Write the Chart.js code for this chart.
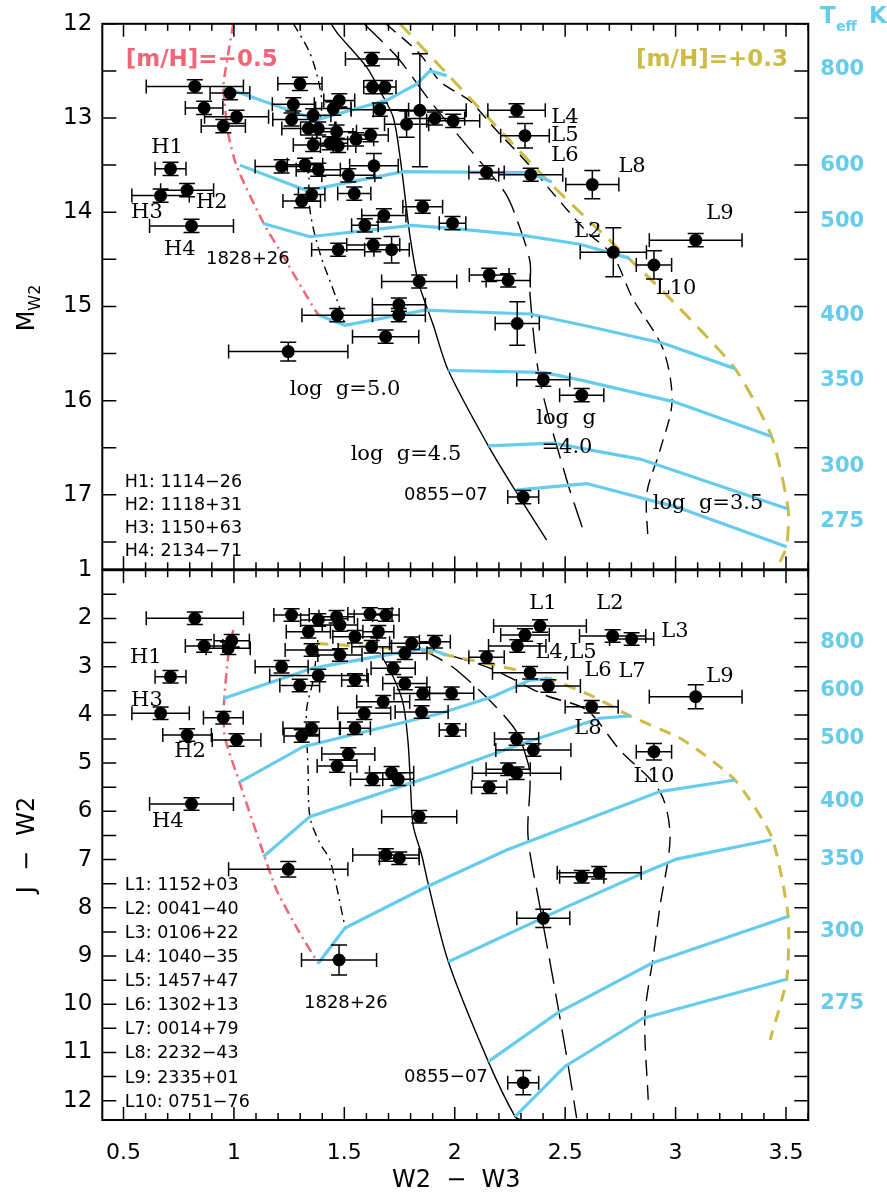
<!DOCTYPE html>
<html>
<head>
<meta charset="utf-8">
<script src="https://cdn.jsdelivr.net/npm/chart.js@4.4.1/dist/chart.umd.min.js"></script>
<style>
  body { margin: 0; background: #fff; }
  #wrap { position: relative; width: 887px; height: 1194px; }
  canvas { position: absolute; left: 0; }
</style>
</head>
<body>
<div id="wrap">
  <canvas id="chartTop" width="887" height="600" style="top:0"></canvas>
  <canvas id="chartBottom" width="887" height="664" style="top:530px"></canvas>
</div>
<script>
// === Colores ===
const cyan = "#66CCEE", red = "#EE6677", yellow = "#CCBB44";
const sans = "'DejaVu Sans', sans-serif";
const serif = "'DejaVu Serif', serif";

// === Ejes ===
const xTicks = [0.5, 1, 1.5, 2, 2.5, 3, 3.5];
const topYTicks = [12, 13, 14, 15, 16, 17];
const bottomYTicks = [1, 2, 3, 4, 5, 6, 7, 8, 9, 10, 11, 12];
const teffLabels = ["800", "600", "500", "400", "350", "300", "275"];
const teffTopAt = [12.49, 13.505, 14.10, 15.10, 15.79, 16.70, 17.28];
const teffBottomAt = [2.50, 3.50, 4.49, 5.80, 7.00, 8.50, 9.98];

// === Panel superior: M_W2 vs W2-W3 ===
const topX = [
  0.823, 0.982, 0.865, 1.012, 0.952, 0.713, 0.788, 0.668, 0.808, 1.625,
  1.299, 1.628, 1.684, 1.269, 1.477, 1.450, 1.359, 1.261, 1.337, 1.382,
  1.465, 1.359, 1.435, 1.472, 1.553, 1.619, 1.661, 1.782, 1.842, 1.910,
  1.993, 1.216, 1.322, 1.382, 1.518, 1.634, 1.307, 1.352, 1.545, 2.144,
  1.855, 1.679, 1.593, 1.990, 1.472, 1.631, 1.714, 1.839, 2.280, 2.318,
  2.344, 2.623, 3.091, 2.718, 2.902, 2.156, 2.242, 1.468, 1.747, 1.747,
  1.687, 1.246, 2.283, 2.401, 2.575, 2.310
];
const topY = [
  12.665, 12.735, 12.893, 12.987, 13.086, 13.539, 13.766, 13.823, 14.145, 12.374,
  12.637, 12.672, 12.672, 12.855, 12.813, 12.900, 12.971, 13.016, 13.111, 13.111,
  13.145, 13.286, 13.268, 13.297, 13.226, 13.181, 12.911, 13.065, 12.918, 13.005,
  13.030, 13.514, 13.497, 13.549, 13.608, 13.507, 13.882, 13.813, 13.802, 13.577,
  13.942, 14.034, 14.139, 14.116, 14.398, 14.349, 14.398, 14.735, 12.918, 13.187,
  13.602, 13.707, 14.297, 14.426, 14.560, 14.665, 14.724, 15.093, 14.981, 15.093,
  15.321, 15.479, 15.181, 15.777, 15.942, 17.023
];
const topXerr = [
  0.22, 0.09, 0.085, 0.145, 0.10, 0.07, 0.12, 0.13, 0.19, 0.12,
  0.10, 0.04, 0.05, 0.095, 0.07, 0.08, 0.08, 0.085, 0.12, 0.08,
  0.09, 0.09, 0.08, 0.08, 0.08, 0.08, 0.13, 0.10, 0.21, 0.135,
  0.12, 0.12, 0.08, 0.10, 0.12, 0.11, 0.085, 0.06, 0.075, 0.08,
  0.09, 0.10, 0.06, 0.06, 0.12, 0.12, 0.08, 0.17, 0.13, 0.11,
  0.145, 0.12, 0.21, 0.15, 0.08, 0.09, 0.10, 0.16, 0.12, 0.12,
  0.15, 0.27, 0.10, 0.12, 0.10, 0.07
];
const topYerr = [
  0.07, 0.07, 0.07, 0.07, 0.07, 0.07, 0.07, 0.07, 0.07, 0.07,
  0.07, 0.07, 0.07, 0.07, 0.07, 0.07, 0.07, 0.07, 0.07, 0.07,
  0.07, 0.07, 0.07, 0.07, 0.07, 0.07, 0.07, 0.14, 0.60, 0.07,
  0.07, 0.07, 0.07, 0.07, 0.07, 0.13, 0.07, 0.07, 0.07, 0.07,
  0.07, 0.07, 0.07, 0.07, 0.07, 0.07, 0.14, 0.07, 0.07, 0.13,
  0.07, 0.15, 0.07, 0.26, 0.15, 0.07, 0.07, 0.07, 0.07, 0.07,
  0.07, 0.10, 0.23, 0.07, 0.07, 0.07
];

// curvas del panel superior [W2-W3, M_W2]
const topMetalPoor = [[0.997, 12.0], [0.964, 12.46], [0.952, 12.67], [0.974, 13.16], [1.012, 13.51], [1.133, 14.11], [1.239, 14.53], [1.337, 14.92], [1.382, 15.09]];
const topMetalRich = [[1.752, 12.0], [1.933, 12.45], [2.431, 13.69], [2.716, 14.33], [2.960, 14.88], [3.269, 15.66], [3.435, 16.38], [3.510, 17.15], [3.503, 17.55], [3.473, 17.71]];
const topT800 = [[0.952, 12.67], [1.375, 13.02], [1.694, 12.81], [1.827, 12.64], [1.888, 12.50], [1.963, 12.55]];
const topT600 = [[1.027, 13.50], [1.329, 13.77], [1.767, 13.57], [2.341, 13.58], [2.439, 13.68]];
const topT500 = [[1.133, 14.12], [1.344, 14.26], [1.805, 14.14], [2.024, 14.18], [2.295, 14.24], [2.567, 14.34], [2.793, 14.49]];
const topT400 = [[1.382, 15.09], [1.503, 15.20], [1.865, 15.04], [2.341, 15.08], [2.582, 15.20], [2.944, 15.39], [3.269, 15.66]];
const topT350 = [[1.971, 15.68], [2.401, 15.70], [2.567, 15.78], [2.990, 16.01], [3.435, 16.38]];
const topT300 = [[2.152, 16.48], [2.446, 16.45], [2.839, 16.62], [3.510, 17.15]];
const topT275 = [[2.273, 16.95], [2.597, 16.88], [3.005, 17.13], [3.503, 17.55]];
const topLogg50 = [[1.270, 12.0], [1.342, 12.30], [1.380, 12.58], [1.398, 12.85], [1.380, 13.16], [1.344, 13.51], [1.344, 13.97], [1.389, 14.43], [1.465, 14.92], [1.503, 15.19]];
const topLogg45 = [[1.440, 12.0], [1.472, 12.11], [1.601, 12.46], [1.661, 12.71], [1.721, 12.99], [1.752, 13.41], [1.782, 13.97], [1.797, 14.25], [1.835, 14.74], [1.903, 15.20], [1.971, 15.68], [2.152, 16.48], [2.273, 16.95], [2.416, 17.48]];
const topLogg40 = [[1.589, 12.0], [1.738, 12.35], [1.888, 12.82], [2.082, 13.37], [2.227, 13.79], [2.282, 14.08], [2.341, 14.53], [2.341, 14.88], [2.386, 15.79], [2.508, 16.85], [2.581, 17.37]];
const topLogg35 = [[1.688, 12.0], [1.842, 12.32], [1.933, 12.61], [2.069, 12.82], [2.173, 13.09], [2.341, 13.51], [2.431, 13.76], [2.599, 14.21], [2.716, 14.46], [2.807, 14.92], [2.943, 15.45], [2.984, 16.01], [2.929, 16.53], [2.870, 16.98], [2.875, 17.48]];

// === Panel inferior: J-W2 vs W2-W3 ===
const bottomX = [
  0.823, 0.990, 0.865, 0.974, 0.713, 0.668, 0.952, 0.788, 1.012, 0.808,
  1.261, 1.382, 1.465, 1.480, 1.616, 1.688, 1.337, 1.548, 1.654, 1.624,
  1.352, 1.480, 1.805, 1.910, 1.774, 1.216, 1.382, 1.298, 1.548, 1.721,
  1.774, 1.855, 1.986, 1.676, 1.850, 1.590, 1.990, 1.352, 1.307, 1.548,
  1.518, 1.467, 1.628, 1.714, 1.744, 1.839, 2.144, 2.386, 2.318, 2.283,
  2.715, 2.801, 2.341, 2.424, 2.620, 3.091, 2.280, 2.356, 2.902, 2.242,
  2.280, 2.156, 1.246, 1.688, 1.749, 1.476, 2.575, 2.654, 2.401, 2.310
];
const bottomY = [
  1.997, 2.462, 2.572, 2.619, 3.208, 3.967, 4.058, 4.417, 4.521, 5.848,
  1.929, 2.033, 1.964, 2.136, 1.908, 1.929, 2.275, 2.379, 2.275, 2.586,
  2.655, 2.758, 2.516, 2.482, 2.723, 3.001, 3.183, 3.391, 3.277, 3.034,
  3.349, 3.557, 3.552, 3.727, 3.940, 3.967, 4.313, 4.278, 4.438, 4.278,
  4.811, 5.060, 5.336, 5.199, 5.336, 6.111, 2.806, 2.157, 2.344, 2.572,
  2.364, 2.427, 3.125, 3.401, 3.830, 3.623, 4.500, 4.728, 4.763, 5.128,
  5.211, 5.501, 7.202, 6.905, 6.973, 9.082, 7.355, 7.272, 8.218, 11.626
];
const bottomXerr = [
  0.22, 0.08, 0.085, 0.10, 0.07, 0.13, 0.09, 0.11, 0.11, 0.19,
  0.08, 0.08, 0.08, 0.08, 0.10, 0.06, 0.10, 0.10, 0.07, 0.09,
  0.12, 0.10, 0.10, 0.07, 0.10, 0.12, 0.22, 0.09, 0.06, 0.10,
  0.10, 0.13, 0.10, 0.12, 0.12, 0.12, 0.06, 0.13, 0.08, 0.07,
  0.12, 0.09, 0.10, 0.10, 0.07, 0.17, 0.08, 0.21, 0.11, 0.13,
  0.15, 0.10, 0.17, 0.145, 0.12, 0.21, 0.10, 0.17, 0.08, 0.10,
  0.20, 0.08, 0.27, 0.15, 0.09, 0.17, 0.10, 0.19, 0.12, 0.07
];
const bottomYerr = [
  0.13, 0.13, 0.13, 0.13, 0.13, 0.13, 0.13, 0.13, 0.13, 0.13,
  0.13, 0.13, 0.13, 0.13, 0.13, 0.13, 0.13, 0.13, 0.13, 0.13,
  0.13, 0.13, 0.13, 0.13, 0.13, 0.13, 0.13, 0.13, 0.13, 0.13,
  0.13, 0.13, 0.13, 0.13, 0.13, 0.13, 0.13, 0.13, 0.13, 0.13,
  0.13, 0.13, 0.13, 0.13, 0.13, 0.13, 0.13, 0.13, 0.13, 0.13,
  0.13, 0.13, 0.13, 0.13, 0.13, 0.25, 0.13, 0.13, 0.17, 0.13,
  0.13, 0.13, 0.16, 0.13, 0.13, 0.31, 0.13, 0.13, 0.19, 0.25
];

// curvas del panel inferior [W2-W3, J-W2]
const bottomMetalPoor = [[0.997, 2.24], [0.974, 2.79], [0.955, 3.76], [0.958, 4.45], [1.027, 5.42], [1.118, 6.66], [1.193, 7.63], [1.299, 8.53], [1.382, 9.15]];
const bottomMetalRich = [[1.375, 2.52], [1.812, 2.65], [1.963, 2.76], [2.280, 3.07], [2.446, 3.28], [2.627, 3.62], [2.793, 4.02], [3.034, 4.52], [3.269, 5.35], [3.435, 6.53], [3.510, 8.18], [3.503, 9.48], [3.428, 10.74]];
const bottomT800 = [[0.952, 3.66], [1.359, 3.03], [1.684, 2.76], [1.842, 2.64], [1.888, 2.64], [1.963, 2.76]];
const bottomT600 = [[1.027, 5.39], [1.314, 4.66], [1.933, 3.97], [2.174, 3.62], [2.341, 3.28], [2.439, 3.24]];
const bottomT500 = [[1.133, 6.94], [1.344, 6.11], [1.752, 5.49], [1.933, 5.21], [2.310, 4.59], [2.658, 4.07], [2.793, 4.02]];
const bottomT400 = [[1.382, 9.15], [1.503, 8.42], [1.857, 7.60], [2.235, 6.80], [2.929, 5.59], [3.269, 5.35]];
const bottomT350 = [[1.971, 9.12], [2.507, 7.98], [2.853, 7.28], [3.005, 6.99], [3.434, 6.59]];
const bottomT300 = [[2.152, 11.19], [2.462, 10.19], [2.892, 9.15], [3.510, 8.18]];
const bottomT275 = [[2.273, 12.33], [2.499, 11.29], [2.853, 10.29], [3.503, 9.48]];
const bottomLogg50 = [[1.380, 2.45], [1.359, 3.28], [1.329, 3.90], [1.336, 5.14], [1.344, 6.11], [1.389, 6.66], [1.435, 7.01], [1.503, 8.39]];
const bottomLogg45 = [[1.661, 2.72], [1.721, 3.21], [1.766, 3.76], [1.789, 4.59], [1.800, 5.50], [1.812, 6.30], [1.850, 6.90], [1.879, 7.49], [1.971, 9.12], [2.152, 11.19], [2.273, 12.33], [2.300, 12.40]];
const bottomLogg40 = [[1.842, 2.61], [2.008, 3.07], [2.264, 4.24], [2.332, 5.00], [2.341, 5.42], [2.332, 6.53], [2.386, 7.98], [2.446, 9.50], [2.507, 11.09], [2.552, 12.36]];
const bottomLogg35 = [[1.888, 2.65], [2.159, 3.03], [2.408, 3.59], [2.597, 3.90], [2.748, 4.73], [2.929, 5.59], [2.975, 6.53], [2.929, 7.98], [2.899, 9.01], [2.861, 10.26], [2.876, 11.98]];

// === Textos ===
const topLabels = [
  ["H1", 0.697, 13.31], ["H2", 0.900, 13.90], ["H3", 0.606, 14.00], ["H4", 0.755, 14.40],
  ["L4", 2.499, 13.00], ["L5", 2.499, 13.19], ["L6", 2.499, 13.40], ["L8", 2.803, 13.51],
  ["L9", 3.201, 14.01], ["L2", 2.603, 14.21], ["L10", 3.002, 14.81],
  ["log  g=5.0", 1.503, 15.88], ["log  g=4.5", 1.779, 16.57], ["log  g", 2.504, 16.19],
  ["=4.0", 2.508, 16.50], ["log  g=3.5", 3.147, 17.09]
];
const topCodes = [["1828+26", 1.063, 14.50], ["0855−07", 1.960, 17.00]];
const topKey = ["H1: 1114−26", "H2: 1118+31", "H3: 1150+63", "H4: 2134−71"];
const bottomLabels = [
  ["H1", 0.601, 2.82], ["H3", 0.606, 3.71], ["H2", 0.801, 4.77], ["H4", 0.701, 6.22],
  ["L1", 2.399, 1.70], ["L2", 2.703, 1.70], ["L3", 2.997, 2.28], ["L4,L5", 2.504, 2.70],
  ["L6", 2.649, 3.09], ["L7", 2.803, 3.11], ["L8", 2.603, 4.29], ["L9", 3.201, 3.21], ["L10", 2.902, 5.28]
];
const bottomCodes = [["1828+26", 1.507, 9.99], ["0855−07", 1.960, 11.51]];
const bottomKey = ["L1: 1152+03", "L2: 0041−40", "L3: 0106+22", "L4: 1040−35", "L5: 1457+47",
  "L6: 1302+13", "L7: 0014+79", "L8: 2232−43", "L9: 2335+01", "L10: 0751−76"];

const xMin = 0.404, xMax = 3.601;

function curve(pts, color, width, dash, tension) {
  return {
    data: pts.map(p => ({ x: p[0], y: p[1] })),
    showLine: true,
    borderColor: color,
    borderWidth: width,
    borderDash: dash || [],
    tension: tension || 0,
    pointRadius: 0,
    fill: false
  };
}

function stars(xs, ys, xe, ye) {
  return {
    data: xs.map((v, i) => ({ x: v, y: ys[i] })),
    xErr: xe,
    yErr: ye,
    showLine: false,
    backgroundColor: "#000",
    borderWidth: 0,
    pointRadius: 6.5
  };
}

// barras de error debajo de los puntos
const errorBars = {
  id: "errorBars",
  beforeDatasetDraw(chart, args) {
    const ds = chart.data.datasets[args.index];
    if (!ds.xErr) return;
    const { ctx, chartArea: a, scales: { x, y } } = chart;
    ctx.save();
    ctx.beginPath();
    ctx.rect(a.left, a.top, a.width, a.height);
    ctx.clip();
    ctx.strokeStyle = "#000";
    ctx.lineWidth = 1.5;
    ctx.beginPath();
    ds.data.forEach((p, i) => {
      const px = x.getPixelForValue(p.x), py = y.getPixelForValue(p.y);
      const x0 = x.getPixelForValue(p.x - ds.xErr[i]), x1 = x.getPixelForValue(p.x + ds.xErr[i]);
      const y0 = y.getPixelForValue(p.y - ds.yErr[i]), y1 = y.getPixelForValue(p.y + ds.yErr[i]);
      ctx.moveTo(x0, py); ctx.lineTo(x1, py);
      ctx.moveTo(x0, py - 7); ctx.lineTo(x0, py + 7);
      ctx.moveTo(x1, py - 7); ctx.lineTo(x1, py + 7);
      ctx.moveTo(px, y0); ctx.lineTo(px, y1);
      ctx.moveTo(px - 8, y0); ctx.lineTo(px + 8, y0);
      ctx.moveTo(px - 8, y1); ctx.lineTo(px + 8, y1);
    });
    ctx.stroke();
    ctx.restore();
  }
};

// marco con marcas hacia dentro
const frame = {
  id: "frame",
  afterDraw(chart) {
    const { ctx, chartArea: a, scales: { x, y } } = chart;
    ctx.save();
    ctx.strokeStyle = "#000";
    ctx.lineWidth = 1.5;
    ctx.beginPath();
    for (let i = 5; i <= 36; i++) {
      const px = x.getPixelForValue(i / 10);
      const len = i % 5 === 0 ? 13 : 7;
      ctx.moveTo(px, a.top); ctx.lineTo(px, a.top + len);
      ctx.moveTo(px, a.bottom); ctx.lineTo(px, a.bottom - len);
    }
    for (let i = Math.ceil(y.min * 2); i <= Math.floor(y.max * 2); i++) {
      const py = y.getPixelForValue(i / 2);
      ctx.moveTo(a.left, py); ctx.lineTo(a.left + 14, py);
      ctx.moveTo(a.right, py); ctx.lineTo(a.right - 14, py);
    }
    ctx.stroke();
    ctx.lineWidth = 2;
    ctx.strokeRect(a.left, a.top, a.width, a.height);
    ctx.restore();
  }
};

function panelText(labels, codes, key, keyY, keyStep, teffAt, yTitle, extra) {
  return {
    id: "panelText",
    afterDraw(chart) {
      const { ctx, chartArea: a, scales: { x, y } } = chart;
      ctx.save();
      ctx.textBaseline = "middle";
      ctx.fillStyle = "#000";
      ctx.textAlign = "center";
      ctx.font = "21px " + serif;
      labels.forEach(l => ctx.fillText(l[0], x.getPixelForValue(l[1]), y.getPixelForValue(l[2])));
      ctx.font = "18px " + sans;
      codes.forEach(l => ctx.fillText(l[0], x.getPixelForValue(l[1]), y.getPixelForValue(l[2])));
      ctx.textAlign = "left";
      ctx.font = "17.5px " + sans;
      key.forEach((t, i) => ctx.fillText(t, x.getPixelForValue(0.506), y.getPixelForValue(keyY + i * keyStep)));
      // Teff a la derecha
      ctx.font = "bold 21px " + sans;
      ctx.fillStyle = cyan;
      teffAt.forEach((v, i) => ctx.fillText(teffLabels[i], a.right + 12, y.getPixelForValue(v)));
      // titulo del eje y
      ctx.fillStyle = "#000";
      ctx.translate(28, yTitle.at);
      ctx.rotate(-Math.PI / 2);
      ctx.textAlign = "left";
      ctx.font = "24px " + sans;
      const w = ctx.measureText(yTitle.main).width;
      let sw = 0;
      if (yTitle.sub) {
        ctx.font = "16px " + sans;
        sw = ctx.measureText(yTitle.sub).width;
      }
      const start = -(w + sw) / 2;
      ctx.font = "24px " + sans;
      ctx.fillText(yTitle.main, start, 0);
      if (yTitle.sub) {
        ctx.font = "16px " + sans;
        ctx.fillText(yTitle.sub, start + w, 8);
      }
      ctx.restore();
      if (extra) extra(chart);
    }
  };
}

function scalesFor(yMin, yMax, yTicks, showX) {
  return {
    x: {
      type: "linear",
      min: xMin,
      max: xMax,
      display: showX,
      afterBuildTicks: s => { s.ticks = xTicks.map(v => ({ value: v })); },
      afterFit: s => { s.height = showX ? 74 : 0; },
      grid: { display: false, drawTicks: false },
      border: { display: false },
      ticks: { padding: 20, color: "#000", maxRotation: 0, autoSkip: false, font: { family: sans, size: 22 }, callback: v => String(v) }
    },
    y: {
      type: "linear",
      reverse: true,
      min: yMin,
      max: yMax,
      afterBuildTicks: s => { s.ticks = yTicks.map(v => ({ value: v })); },
      afterFit: s => { s.width = 102.3; },
      grid: { display: false, drawTicks: false },
      border: { display: false },
      ticks: { padding: 10, color: "#000", autoSkip: false, font: { family: sans, size: 23 }, callback: v => String(v) }
    }
  };
}

function baseOptions(padding, scales) {
  return {
    responsive: false,
    animation: false,
    events: [],
    layout: { padding: padding },
    plugins: { legend: { display: false }, tooltip: { enabled: false } },
    scales: scales
  };
}

// encabezado Teff y etiquetas de metalicidad
function topExtra(chart) {
  const { ctx, scales: { x, y } } = chart;
  ctx.save();
  ctx.textBaseline = "middle";
  ctx.font = "bold 23px " + sans;
  ctx.fillStyle = red;
  ctx.textAlign = "left";
  ctx.fillText("[m/H]=−0.5", x.getPixelForValue(0.51), y.getPixelForValue(12.38));
  ctx.fillStyle = yellow;
  ctx.textAlign = "right";
  ctx.fillText("[m/H]=+0.3", x.getPixelForValue(3.509), y.getPixelForValue(12.38));
  ctx.fillStyle = cyan;
  ctx.textAlign = "left";
  ctx.font = "bold 23px " + sans;
  ctx.fillText("T", 820, 17);
  ctx.font = "bold 14px " + sans;
  ctx.fillText("eff", 836, 27);
  ctx.font = "bold 23px " + sans;
  ctx.fillText("K", 869, 17);
  ctx.restore();
}

function bottomExtra(chart) {
  const { ctx, chartArea: a } = chart;
  ctx.save();
  ctx.fillStyle = "#000";
  ctx.textAlign = "center";
  ctx.textBaseline = "middle";
  ctx.font = "24px " + sans;
  ctx.fillText("W2  −  W3", (a.left + a.right) / 2 + 1, a.bottom + 61);
  ctx.restore();
}

// === Panel superior ===
new Chart(document.getElementById("chartTop"), {
  type: "scatter",
  data: {
    datasets: [
      stars(topX, topY, topXerr, topYerr),
      curve(topT800, cyan, 3.2),
      curve(topT600, cyan, 3.2),
      curve(topT500, cyan, 3.2),
      curve(topT400, cyan, 3.2),
      curve(topT350, cyan, 3.2),
      curve(topT300, cyan, 3.2),
      curve(topT275, cyan, 3.2),
      curve(topMetalPoor, red, 2.5, [10, 5, 2, 5], 0.2),
      curve(topMetalRich, yellow, 3, [15, 10], 0.2),
      curve(topLogg50, "#000", 1.4, [9, 5, 2, 5], 0.3),
      curve(topLogg45, "#000", 1.4, [], 0.3),
      curve(topLogg40, "#000", 1.4, [26, 10], 0.3),
      curve(topLogg35, "#000", 1.4, [13, 8], 0.3)
    ]
  },
  options: baseOptions({ left: 0, right: 78.7, top: 19.5, bottom: 30.7 }, scalesFor(12, 17.79, topYTicks, false)),
  plugins: [errorBars, frame, panelText(topLabels, topCodes, topKey, 16.87, 0.242, teffTopAt, { at: 308, main: "M", sub: "W2" }, topExtra)]
});

// === Panel inferior ===
new Chart(document.getElementById("chartBottom"), {
  type: "scatter",
  data: {
    datasets: [
      stars(bottomX, bottomY, bottomXerr, bottomYerr),
      curve(bottomT800, cyan, 3.2),
      curve(bottomT600, cyan, 3.2),
      curve(bottomT500, cyan, 3.2),
      curve(bottomT400, cyan, 3.2),
      curve(bottomT350, cyan, 3.2),
      curve(bottomT300, cyan, 3.2),
      curve(bottomT275, cyan, 3.2),
      curve(bottomMetalPoor, red, 2.5, [10, 5, 2, 5], 0.2),
      curve(bottomMetalRich, yellow, 3, [12, 9], 0.2),
      curve(bottomLogg50, "#000", 1.4, [9, 5, 2, 5], 0.3),
      curve(bottomLogg45, "#000", 1.4, [], 0.3),
      curve(bottomLogg40, "#000", 1.4, [26, 10], 0.3),
      curve(bottomLogg35, "#000", 1.4, [16, 9], 0.3)
    ]
  },
  options: baseOptions({ left: 0, right: 78.7, top: 40.2, bottom: 0 }, scalesFor(1, 12.4, bottomYTicks, true)),
  plugins: [errorBars, frame, panelText(bottomLabels, bottomCodes, bottomKey, 7.53, 0.5, teffBottomAt, { at: 315, main: "J  −  W2" }, bottomExtra)]
});
</script>
</body>
</html>
